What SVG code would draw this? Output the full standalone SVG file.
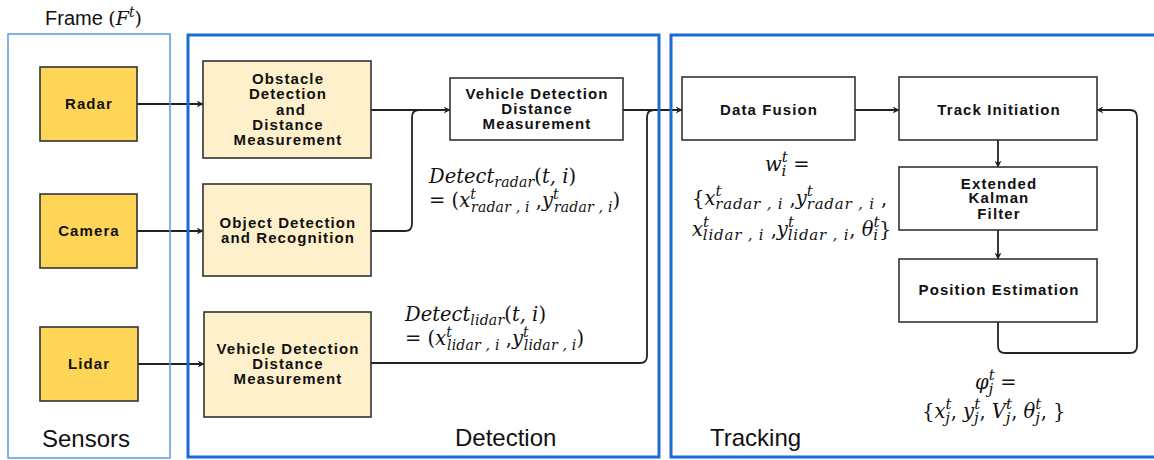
<svg xmlns="http://www.w3.org/2000/svg" width="1154" height="460" viewBox="0 0 1154 460">
<defs>
<style>
.sensor{fill:#FFD558;stroke:#333;stroke-width:1.6}
.det{fill:#FDF0CB;stroke:#333;stroke-width:1.6}
.wb{fill:#fff;stroke:#333;stroke-width:1.6}
.bt{font-family:"Liberation Sans",Arial,sans-serif;font-weight:bold;font-size:15px;letter-spacing:1.1px;text-anchor:middle;fill:#111}
.lab{font-family:"Liberation Sans",Arial,sans-serif;font-size:24px;fill:#111}
.m{font-family:"DejaVu Serif",serif;font-style:italic;font-size:19.5px;fill:#111}
.s{font-size:15px;letter-spacing:0.8px}
.s2{font-size:14px;letter-spacing:0.2px}
.u{font-style:normal}
.conn{fill:none;stroke:#222;stroke-width:1.8}
.frame{fill:none;stroke:#1C6BD0;stroke-width:3}
.thin{fill:none;stroke:#5A9BE0;stroke-width:1.5}
</style>
<marker id="arr" viewBox="0 0 10 10" refX="9" refY="5" markerWidth="7" markerHeight="7" markerUnits="userSpaceOnUse" orient="auto">
<path d="M0,0 L10,5 L0,10 L3,5 z" fill="#222"/>
</marker>
</defs>
<rect width="1154" height="460" fill="#fff"/>

<g id="connectors">
<path class="conn" d="M137,104 H203" marker-end="url(#arr)"/>
<path class="conn" d="M137,231 H203" marker-end="url(#arr)"/>
<path class="conn" d="M138,364 H204" marker-end="url(#arr)"/>
<path class="conn" d="M371,110 H450" marker-end="url(#arr)"/>
<path class="conn" d="M371,231 H405 Q412,231 412,224 V117 Q412,110 419,110"/>
<path class="conn" d="M623,110 H682" marker-end="url(#arr)"/>
<path class="conn" d="M371,363 H640 Q647,363 647,356 V117 Q647,110 654,110"/>
<path class="conn" d="M855,110 H899" marker-end="url(#arr)"/>
<path class="conn" d="M998,140 V167" marker-end="url(#arr)"/>
<path class="conn" d="M998,230 V259" marker-end="url(#arr)"/>
<path class="conn" d="M998,322 V346 Q998,353 1005,353 H1130 Q1137,353 1137,346 V117 Q1137,110 1130,110 H1097" marker-end="url(#arr)"/>
</g>

<g id="frames">
<rect class="thin" x="8" y="34" width="162" height="424"/>
<rect class="frame" x="188" y="35" width="471" height="422"/>
<rect class="frame" x="671" y="35" width="490" height="422"/>
</g>

<g id="labels">
<text x="45" y="25" font-family="Liberation Sans,Arial,sans-serif" font-size="20" fill="#111">Frame <tspan font-family="DejaVu Serif,serif" font-size="19" class="u">(</tspan><tspan font-family="DejaVu Serif,serif" font-size="19" font-style="italic">F</tspan><tspan font-family="DejaVu Serif,serif" font-size="14" font-style="italic" dy="-8">t</tspan><tspan font-family="DejaVu Serif,serif" font-size="19" dy="8">)</tspan></text>
<text class="lab" x="42" y="447">Sensors</text>
<text class="lab" x="455" y="446">Detection</text>
<text class="lab" x="710" y="446">Tracking</text>
</g>

<g id="radar"><rect class="sensor" x="40" y="67" width="97" height="74"/><text class="bt" x="89" y="109">Radar</text></g>
<g id="camera"><rect class="sensor" x="40" y="194" width="97" height="74"/><text class="bt" x="89" y="236">Camera</text></g>
<g id="lidar"><rect class="sensor" x="40" y="327" width="98" height="74"/><text class="bt" x="89" y="369">Lidar</text></g>

<g id="obstacle"><rect class="det" x="203" y="61" width="168" height="97"/>
<text class="bt"><tspan x="288" y="84">Obstacle</tspan><tspan x="288" y="99">Detection</tspan><tspan x="291" y="115">and</tspan><tspan x="288" y="130">Distance</tspan><tspan x="288" y="145">Measurement</tspan></text></g>

<g id="object"><rect class="det" x="203" y="184" width="168" height="92"/>
<text class="bt"><tspan x="288" y="228">Object Detection</tspan><tspan x="288" y="243">and Recognition</tspan></text></g>

<g id="vehicle-lidar"><rect class="det" x="204" y="312" width="167" height="105"/>
<text class="bt"><tspan x="288" y="354">Vehicle Detection</tspan><tspan x="288" y="369">Distance</tspan><tspan x="288" y="384">Measurement</tspan></text></g>

<g id="vddm"><rect class="wb" x="450" y="78" width="173" height="62"/>
<text class="bt"><tspan x="537" y="99">Vehicle Detection</tspan><tspan x="537" y="114">Distance</tspan><tspan x="537" y="129">Measurement</tspan></text></g>

<g id="fusion"><rect class="wb" x="682" y="77" width="173" height="63"/><text class="bt" x="769" y="115">Data Fusion</text></g>
<g id="track"><rect class="wb" x="899" y="77" width="198" height="63"/><text class="bt" x="999" y="115">Track Initiation</text></g>
<g id="ekf"><rect class="wb" x="899" y="167" width="198" height="63"/>
<text class="bt"><tspan x="999" y="189">Extended</tspan><tspan x="999" y="203">Kalman</tspan><tspan x="999" y="219">Filter</tspan></text></g>
<g id="position"><rect class="wb" x="899" y="259" width="198" height="63"/><text class="bt" x="999" y="295">Position Estimation</text></g>

<g id="math">
<text class="m" x="429" y="183">Detect<tspan class="s2" dy="4">radar</tspan><tspan class="u" dy="-4">(</tspan>t, i<tspan class="u">)</tspan></text>
<text class="m" x="429" y="207"><tspan class="u">= (</tspan>x<tspan class="s2" dy="-8">t</tspan><tspan class="s2" dx="-5" dy="13">radar , i</tspan><tspan class="u" dy="-5"> ,</tspan>y<tspan class="s2" dy="-8">t</tspan><tspan class="s2" dx="-5" dy="13">radar , i</tspan><tspan class="u" dy="-5">)</tspan></text>

<text class="m" x="405" y="321">Detect<tspan class="s2" dy="4">lidar</tspan><tspan class="u" dy="-4">(</tspan>t, i<tspan class="u">)</tspan></text>
<text class="m" x="405" y="345"><tspan class="u">= (</tspan>x<tspan class="s2" dy="-8">t</tspan><tspan class="s2" dx="-5" dy="13">lidar , i</tspan><tspan class="u" dy="-5"> ,</tspan>y<tspan class="s2" dy="-8">t</tspan><tspan class="s2" dx="-5" dy="13">lidar , i</tspan><tspan class="u" dy="-5">)</tspan></text>

<text class="m" x="765" y="171">w<tspan class="s" dy="-9">t</tspan><tspan class="s" dx="-7" dy="14">i</tspan><tspan class="u" dy="-5"> =</tspan></text>
<text class="m" x="692" y="205"><tspan class="u">{</tspan>x<tspan class="s" dy="-9">t</tspan><tspan class="s" dx="-7" dy="13">radar , i</tspan><tspan class="u" dy="-4"> ,</tspan>y<tspan class="s" dy="-9">t</tspan><tspan class="s" dx="-7" dy="13">radar , i</tspan><tspan class="u" dy="-4"> ,</tspan></text>
<text class="m" x="692" y="236">x<tspan class="s" dy="-9">t</tspan><tspan class="s" dx="-7" dy="13">lidar , i</tspan><tspan class="u" dy="-4"> ,</tspan>y<tspan class="s" dy="-9">t</tspan><tspan class="s" dx="-7" dy="13">lidar , i</tspan><tspan class="u" dy="-4">, </tspan>θ<tspan class="s" dy="-9">t</tspan><tspan class="s" dx="-7" dy="13">i</tspan><tspan class="u" dy="-4">}</tspan></text>

<text class="m" x="975" y="389">φ<tspan class="s" dy="-9">t</tspan><tspan class="s" dx="-7" dy="14">j</tspan><tspan class="u" dy="-5"> =</tspan></text>
<text class="m" x="922" y="418"><tspan class="u">{</tspan>x<tspan class="s" dy="-9">t</tspan><tspan class="s" dx="-7" dy="14">j</tspan><tspan class="u" dy="-5">, </tspan>y<tspan class="s" dy="-9">t</tspan><tspan class="s" dx="-7" dy="14">j</tspan><tspan class="u" dy="-5">, </tspan>V<tspan class="s" dy="-9">t</tspan><tspan class="s" dx="-7" dy="14">j</tspan><tspan class="u" dy="-5">, </tspan>θ<tspan class="s" dy="-9">t</tspan><tspan class="s" dx="-7" dy="14">j</tspan><tspan class="u" dy="-5">, }</tspan></text>
</g>
</svg>
